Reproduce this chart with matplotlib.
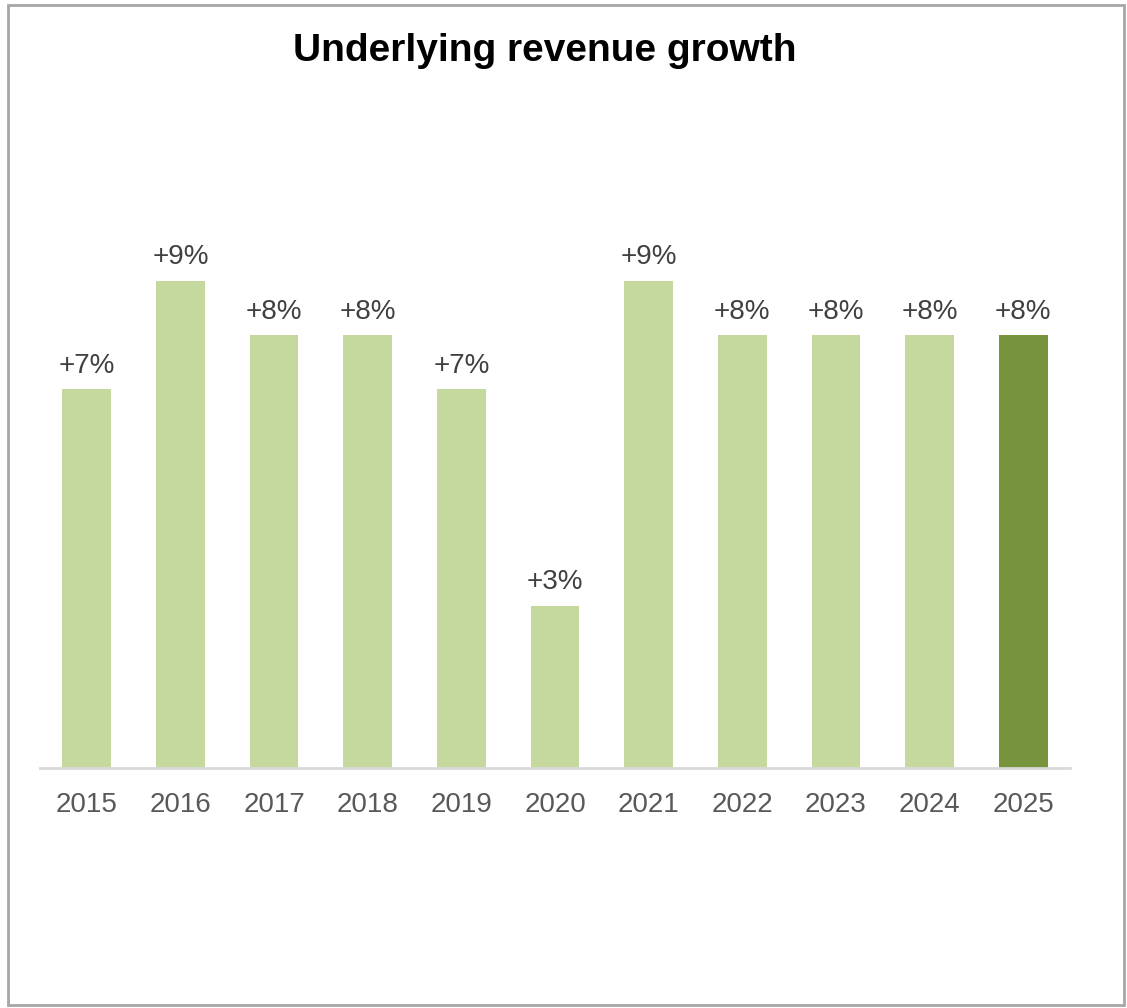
import matplotlib
matplotlib.use("Agg")
import matplotlib.pyplot as plt
from matplotlib.patches import Rectangle

# datos del grafico
years = ["2015", "2016", "2017", "2018", "2019", "2020", "2021", "2022", "2023", "2024", "2025"]
growth = [7, 9, 8, 8, 7, 3, 9, 8, 8, 8, 8]
labels = ["+7%", "+9%", "+8%", "+8%", "+7%", "+3%", "+9%", "+8%", "+8%", "+8%", "+8%"]

light_green = "#C5D89D"
dark_green = "#77933C"
fonts = ["Liberation Sans Narrow", "Liberation Sans", "DejaVu Sans"]

fig = plt.figure(figsize=(11.27, 10.08), dpi=100)
ax = fig.add_axes([40 / 1127, 240 / 1008, 1030 / 1127, 568.6 / 1008])

colors = [light_green] * (len(years) - 1) + [dark_green]
x = range(len(years))
bars = ax.bar(x, growth, width=0.52, color=colors)

for b, lab in zip(bars, labels):
    ax.text(b.get_x() + b.get_width() / 2, b.get_height() + 0.3, lab,
            ha="center", va="baseline", fontsize=20, color="#404040", family=fonts)

ax.set_xlim(-0.5, len(years) - 0.5)
ax.set_ylim(0, 10.5)
ax.set_xticks(list(x))
ax.set_xticklabels(years, fontsize=20, color="#595959", family=fonts)
ax.tick_params(axis="x", length=0, pad=17)
ax.set_yticks([])
for s in ["top", "right", "left"]:
    ax.spines[s].set_visible(False)
ax.spines["bottom"].set_color("#D9D9D9")
ax.spines["bottom"].set_linewidth(2)

fig.text(545 / 1127, 1 - 61 / 1008, "Underlying revenue growth", ha="center", va="baseline",
         fontsize=28, fontweight="bold", color="black", family=fonts)

# marco gris alrededor
fig.patches.append(Rectangle((8 / 1127, 3 / 1008), 1116 / 1127, 1000 / 1008,
                             transform=fig.transFigure, fill=False,
                             edgecolor="#A6A6A6", linewidth=2))

fig.savefig("out.png", dpi=100)
